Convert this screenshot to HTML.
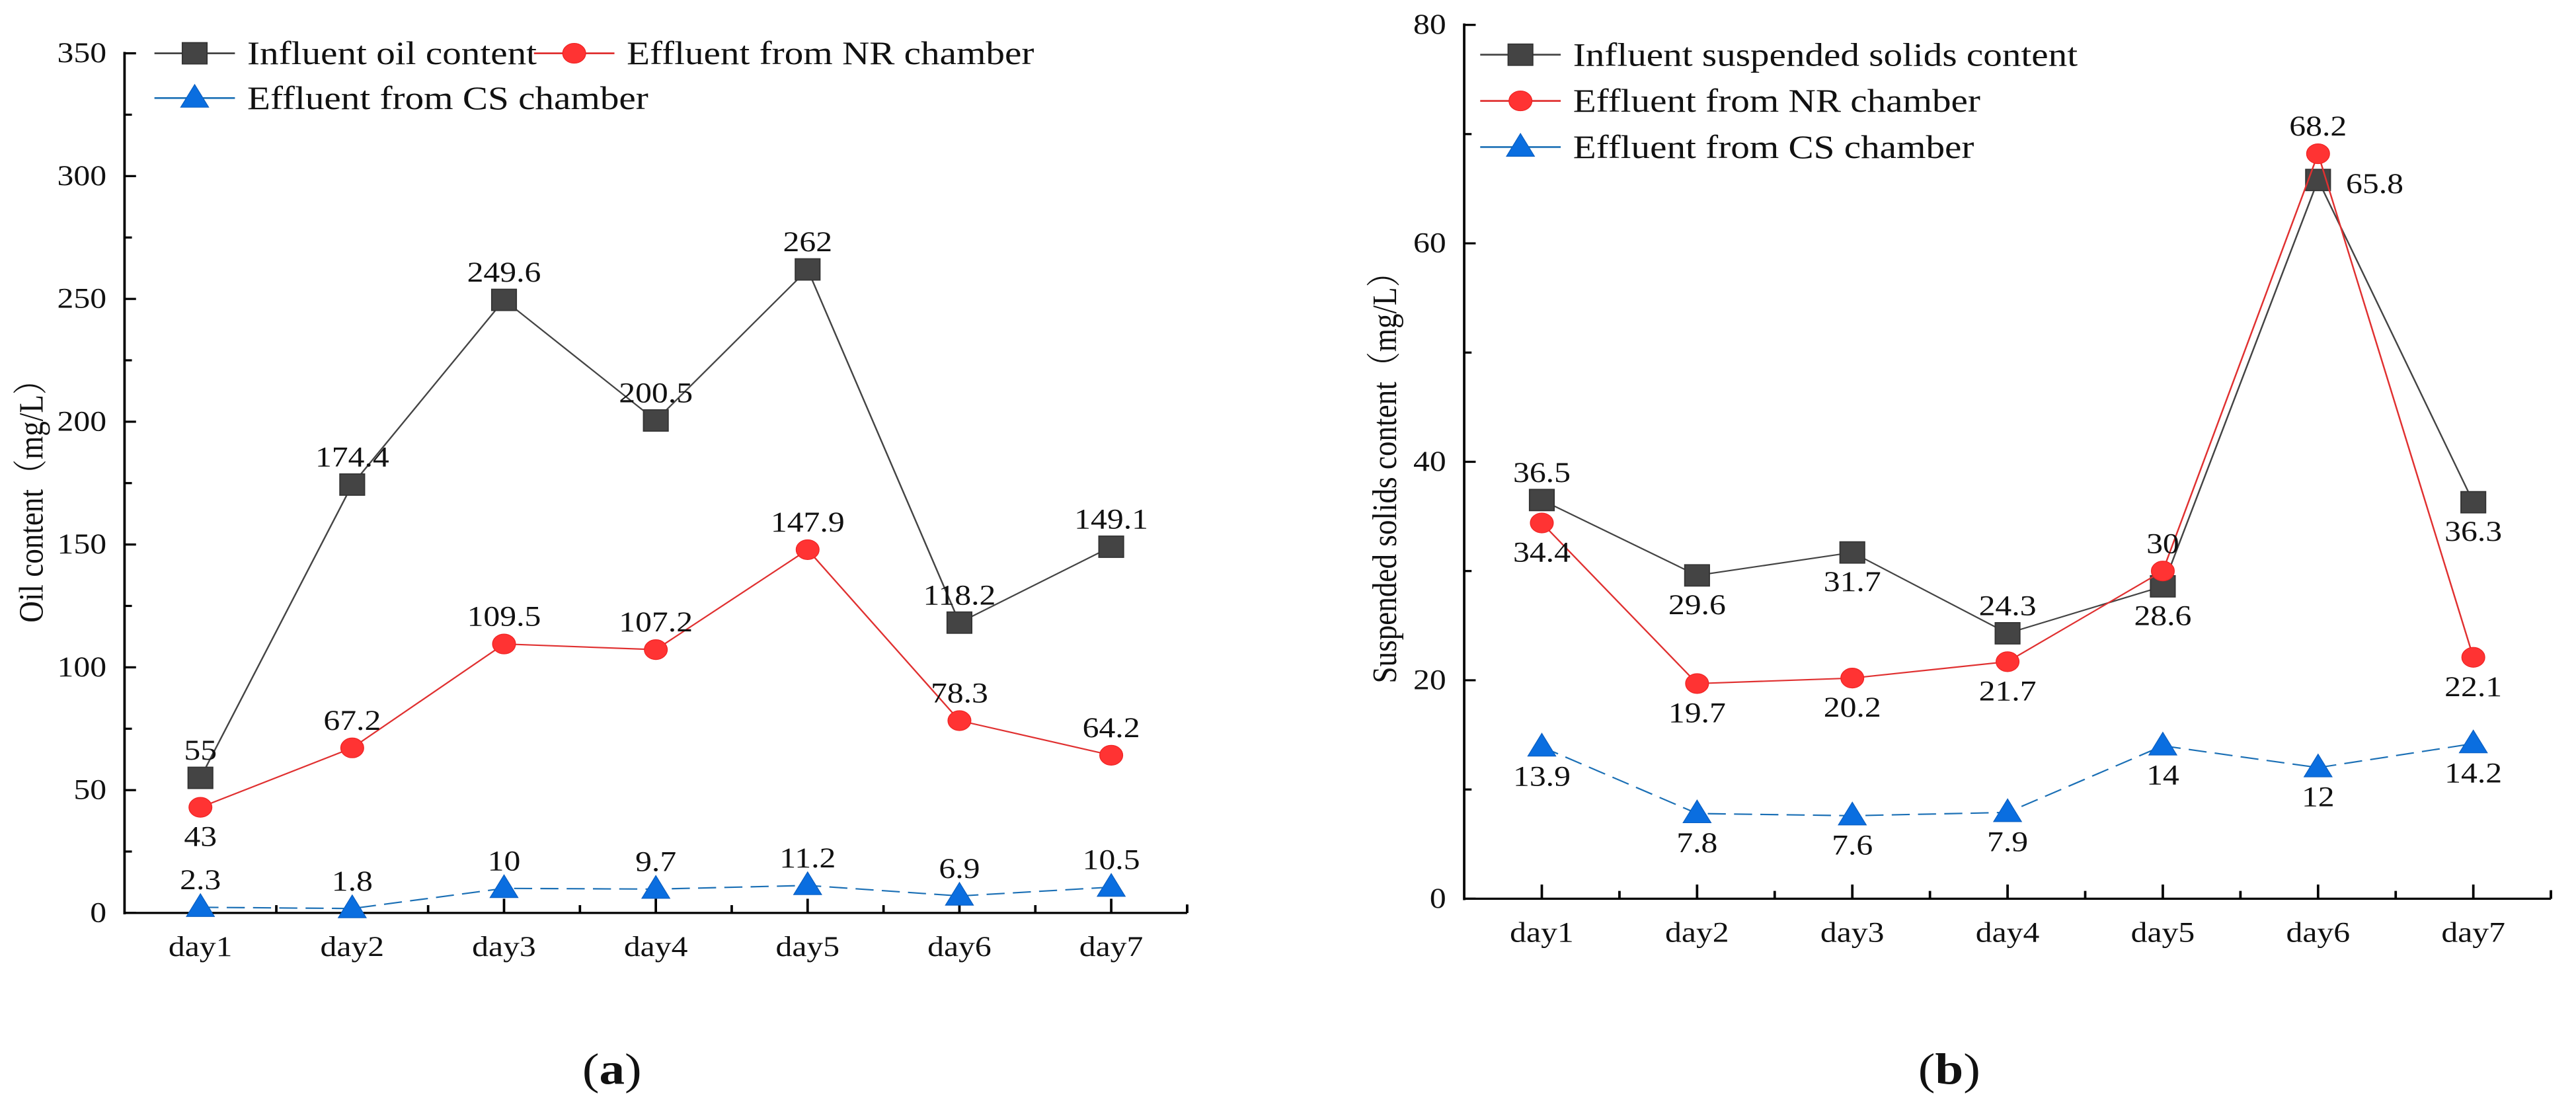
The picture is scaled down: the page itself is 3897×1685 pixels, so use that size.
<!DOCTYPE html>
<html><head><meta charset="utf-8"><style>
html,body{margin:0;padding:0;background:#fff;}
svg{display:block;}
text{font-family:"Liberation Serif","Noto Serif CJK SC",serif;fill:#111;}
</style></head><body>
<svg id="fig" width="3897" height="1685" viewBox="0 0 3136 1568" preserveAspectRatio="none" xmlns="http://www.w3.org/2000/svg"></svg>
<script>
const days = ["day1","day2","day3","day4","day5","day6","day7"];
const oilInfluent = [55,174.4,249.6,200.5,262,118.2,149.1];
const oilNR = [43,67.2,109.5,107.2,147.9,78.3,64.2];
const oilCS = [2.3,1.8,10,9.7,11.2,6.9,10.5];
const oilTicks = [0,50,100,150,200,250,300,350];
const oilInfluentPos = ["a","a","a","a","a","a","a"];
const oilNRPos = ["b","a","a","a","a","a","a"];
const oilCSPos = ["a","a","a","a","a","a","a"];
const ssInfluent = [36.5,29.6,31.7,24.3,28.6,65.8,36.3];
const ssNR = [34.4,19.7,20.2,21.7,30,68.2,22.1];
const ssCS = [13.9,7.8,7.6,7.9,14,12,14.2];
const ssTicks = [0,20,40,60,80];
const ssInfluentPos = ["a","b","b","a","b","r","b"];
const ssNRPos = ["b","b","b","b","a","a","b"];
const ssCSPos = ["b","b","b","b","b","b","b"];

const NS="http://www.w3.org/2000/svg";
const svg=document.getElementById('fig');
function el(tag,attrs,parent){const e=document.createElementNS(NS,tag);for(const k in attrs)e.setAttribute(k,attrs[k]);(parent||svg).appendChild(e);return e;}
function txt(s,x,y,size,anchor,parent,extra){const t=el('text',Object.assign({x:x,y:y,'font-size':size,'text-anchor':anchor||'middle','dominant-baseline':'central'},extra||{}),parent);t.textContent=s;return t;}
function marker(g,type,x,y,color){
  let m;
  if(type==='sq'){m=el('rect',{x:x-15,y:y-15,width:30,height:30,fill:'#444',stroke:'#333','stroke-width':1.5},g);}
  else if(type==='ci'){m=el('circle',{cx:x,cy:y,r:14,fill:'#f33',stroke:'#e22','stroke-width':1},g);}
  else {m=el('polygon',{points:(x)+','+(y-19)+' '+(x-17)+','+(y+13)+' '+(x+17)+','+(y+13),fill:'#0a6ee0',stroke:'#0a5ec0','stroke-width':1},g);}
  return m;
}
function chart(cfg){
  const g=el('g',{transform:'translate('+cfg.ox+',0)'});
  
  
  const X=i=>cfg.x0+i*cfg.dx;
  const Y=v=>cfg.y0-(v/cfg.ymax)*(cfg.y0-cfg.ytop);
  const ax=cfg.x0-cfg.dx/2, axEnd=X(days.length-1)+cfg.dx/2;
  // axes
  const ya=el('line',{x1:ax,y1:cfg.ytop-2,x2:ax,y2:cfg.y0+2,stroke:'#000','stroke-width':3},g);
  
  const xa=el('line',{x1:ax-1,y1:cfg.y0,x2:axEnd,y2:cfg.y0,stroke:'#000','stroke-width':3},g);
  
  el('line',{x1:axEnd,y1:cfg.y0,x2:axEnd,y2:cfg.y0-12,stroke:'#000','stroke-width':3},g);
  cfg.ticks.forEach((v,i)=>{
    el('line',{x1:ax,y1:Y(v),x2:ax+14,y2:Y(v),stroke:'#000','stroke-width':3},g);
    if(i<cfg.ticks.length-1){const mv=(v+cfg.ticks[i+1])/2;el('line',{x1:ax,y1:Y(mv),x2:ax+9,y2:Y(mv),stroke:'#000','stroke-width':3},g);}
    const t=txt(String(v),ax-22,Y(v),40,'end',g);
    
  });
  days.forEach((d,i)=>{
    el('line',{x1:X(i),y1:cfg.y0,x2:X(i),y2:cfg.y0-20,stroke:'#000','stroke-width':3},g);
    el('line',{x1:X(i)+cfg.dx/2,y1:cfg.y0,x2:X(i)+cfg.dx/2,y2:cfg.y0-11,stroke:'#000','stroke-width':3},g);
    const t=txt(d,X(i),cfg.y0+48,40,'middle',g);
    
  });
  const yt=txt(cfg.ytitle,0,0,42,'middle',g,{transform:'translate('+cfg.ytx+','+cfg.yty+') rotate(-90)'});
  
  // series
  cfg.series.forEach(s=>{
    const sg=el('g',{},g);
    
    
    const pts=s.vals.map((v,i)=>X(i)+','+Y(v)).join(' ');
    el('polyline',{points:pts,fill:'none',stroke:s.color,'stroke-width':2,'stroke-dasharray':s.dash||'none'},sg);
    s.vals.forEach((v,i)=>{
      const m=marker(sg,s.type,X(i),Y(v));
      
      
      const p=s.pos[i];
      let lx=X(i),ly=Y(v)-38,an='middle';
      if(p==='b')ly=Y(v)+42;
      if(p==='r'){lx=X(i)+34;ly=Y(v)+6;an='start';}
      const t=txt(String(v),lx,ly,40,an,sg);
      
    });
  });
  // legend
  const lg=el('g',{},g);
  
  
  cfg.legend.forEach(L=>{
    const eg=el('g',{},lg);
    
    
    el('line',{x1:L.x,y1:L.y,x2:L.x+98,y2:L.y,stroke:L.color,'stroke-width':2.5},eg);
    marker(eg,L.type,L.x+49,L.y);
    txt(L.text,L.x+113,L.y,46,'start',eg);
  });
  const cap=el('text',{x:cfg.capx,y:1505,'font-size':62,'text-anchor':'middle','dominant-baseline':'central'},g);
  
  cap.innerHTML='(<tspan font-weight="bold">'+cfg.cap+'</tspan>)';
}
chart({name:'chart-oil-content',ox:0,x0:244,dx:184.8,y0:1285,ytop:75,ymax:350,ticks:oilTicks,
  ytitle:'Oil content（mg/L）',ytx:38,yty:695,capx:745,cap:'a',
  series:[
   {name:'series-influent-oil',vals:oilInfluent,pos:oilInfluentPos,color:'#444',type:'sq'},
   {name:'series-nr-effluent',vals:oilNR,pos:oilNRPos,color:'#e03030',type:'ci'},
   {name:'series-cs-effluent',vals:oilCS,pos:oilCSPos,color:'#1a6fb5',type:'tr',dash:'22 10'}],
  legend:[{x:188,y:75,color:'#444',type:'sq',text:'Influent oil content'},
          {x:650,y:75,color:'#e03030',type:'ci',text:'Effluent from NR chamber'},
          {x:188,y:138,color:'#1a6fb5',type:'tr',text:'Effluent from CS chamber'}]});
chart({name:'chart-suspended-solids',ox:1568,x0:309,dx:189,y0:1265,ytop:35,ymax:80,ticks:ssTicks,
  ytitle:'Suspended solids content（mg/L）',ytx:118,yty:662,capx:805,cap:'b',
  series:[
   {name:'series-influent-ss',vals:ssInfluent,pos:ssInfluentPos,color:'#444',type:'sq'},
   {name:'series-nr-effluent',vals:ssNR,pos:ssNRPos,color:'#e03030',type:'ci'},
   {name:'series-cs-effluent',vals:ssCS,pos:ssCSPos,color:'#1a6fb5',type:'tr',dash:'22 10'}],
  legend:[{x:234,y:77,color:'#444',type:'sq',text:'Influent suspended solids content'},
          {x:234,y:142,color:'#e03030',type:'ci',text:'Effluent from NR chamber'},
          {x:234,y:207,color:'#1a6fb5',type:'tr',text:'Effluent from CS chamber'}]});
</script>
</body></html>
